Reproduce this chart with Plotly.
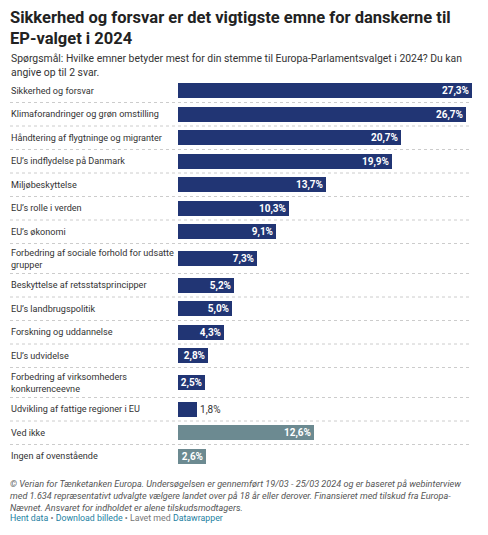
import plotly.graph_objects as go

categories = [
    "Sikkerhed og forsvar",
    "Klimaforandringer og grøn omstilling",
    "Håndtering af flygtninge og migranter",
    "EU’s indflydelse på Danmark",
    "Miljøbeskyttelse",
    "EU’s rolle i verden",
    "EU’s økonomi",
    "Forbedring af sociale forhold for udsatte<br>grupper",
    "Beskyttelse af retsstatsprincipper",
    "EU’s landbrugspolitik",
    "Forskning og uddannelse",
    "EU’s udvidelse",
    "Forbedring af virksomheders<br>konkurrenceevne",
    "Udvikling af fattige regioner i EU",
    "Ved ikke",
    "Ingen af ovenstående",
]
values = [27.3, 26.7, 20.7, 19.9, 13.7, 10.3, 9.1, 7.3, 5.2, 5.0, 4.3, 2.8, 2.5, 1.8, 12.6, 2.6]
groups = ["topic"] * 14 + ["other"] * 2
value_labels = [f"{v:.1f}".replace(".", ",") + "%" for v in values]

NAVY = "#213574"
GREY = "#6c8a91"

# page body has an 8px default margin: figure is placed at (8, 8)
OFF = 8
W, H = 488 - 2 * OFF, 535 - 2 * OFF
L, R, T = 178 - OFF, 472 - OFF, 79 - OFF
ROW1, ROW2 = 23.5, 30.0

# row layout derived from the number of label lines
heights = [ROW1 if "<br>" not in c else ROW2 for c in categories]
centers, bounds = [], []
acc = 0.0
for h in heights:
    centers.append(acc + h / 2)
    acc += h
    bounds.append(acc)
total = acc
B = H - (T + total)

def px_x(px):  # px in reference-page pixels
    return (px - OFF - L) / (R - L)

def px_y(py):
    return 1 - (py - OFF - T) / total

colors = [NAVY if g == "topic" else GREY for g in groups]
positions = ["outside" if v < 2 else "inside" for v in values]

fig = go.Figure(
    go.Bar(
        x=values,
        y=centers,
        orientation="h",
        width=15,
        marker=dict(color=colors, line=dict(width=0)),
        text=value_labels,
        textposition=positions,
        insidetextanchor="end",
        insidetextfont=dict(family="Roboto", size=10, color="white", weight="bold"),
        outsidetextfont=dict(family="Roboto", size=10, color="#333333"),
        cliponaxis=False,
        hoverinfo="skip",
    )
)

shapes = []
for b in bounds[:-1]:
    shapes.append(dict(
        type="line", xref="paper", yref="y",
        x0=px_x(10), x1=1, y0=b, y1=b,
        line=dict(color="#cccccc", width=1, dash="dot"),
        layer="below",
    ))

annotations = []
for c, y in zip(categories, centers):
    annotations.append(dict(
        text=c, xref="paper", yref="y", x=px_x(9), y=y,
        xanchor="left", yanchor="middle", align="left", showarrow=False,
        font=dict(family="Roboto", size=9.1, color="#333333"),
    ))

annotations.append(dict(
    text="<b>Sikkerhed og forsvar er det vigtigste emne for danskerne til<br>EP-valget i 2024</b>",
    xref="paper", yref="paper", x=px_x(8), y=px_y(6),
    xanchor="left", yanchor="top", align="left", showarrow=False,
    font=dict(family="Roboto", size=16.5, color="#222222"),
))
annotations.append(dict(
    text="Spørgsmål: Hvilke emner betyder mest for din stemme til Europa-Parlamentsvalget i 2024? Du kan<br>angive op til 2 svar.",
    xref="paper", yref="paper", x=px_x(9), y=px_y(50),
    xanchor="left", yanchor="top", align="left", showarrow=False,
    font=dict(family="Roboto", size=10.4, color="#333333"),
))
annotations.append(dict(
    text="<i>© Verian for Tænketanken Europa. Undersøgelsen er gennemført 19/03 - 25/03 2024 og er baseret på webinterview<br>"
         "med 1.634 repræsentativt udvalgte vælgere landet over på 18 år eller derover. Finansieret med tilskud fra Europa-<br>"
         "Nævnet. Ansvaret for indholdet er alene tilskudsmodtagers.</i>",
    xref="paper", yref="paper", x=px_x(8), y=px_y(477),
    xanchor="left", yanchor="top", align="left", showarrow=False,
    font=dict(family="Roboto", size=9.1, color="#555555"),
))
annotations.append(dict(
    text="<span style='color:#1d81a2'>Hent data</span> • <span style='color:#1d81a2'>Download billede</span> • Lavet med <span style='color:#1d81a2'>Datawrapper</span>",
    xref="paper", yref="paper", x=px_x(8), y=px_y(511),
    xanchor="left", yanchor="top", align="left", showarrow=False,
    font=dict(family="Roboto", size=8.8, color="#777777"),
))

fig.update_layout(
    width=W, height=H,
    margin=dict(l=L, r=W - R, t=T, b=B, pad=0),
    paper_bgcolor="white", plot_bgcolor="white",
    showlegend=False,
    bargap=0,
    xaxis=dict(range=[0, max(values)], visible=False, fixedrange=True),
    yaxis=dict(range=[total, 0], visible=False, fixedrange=True),
    shapes=shapes,
    annotations=annotations,
    uniformtext=dict(minsize=10, mode="show"),
)

fig.write_html("out.html", config={"displayModeBar": False})
